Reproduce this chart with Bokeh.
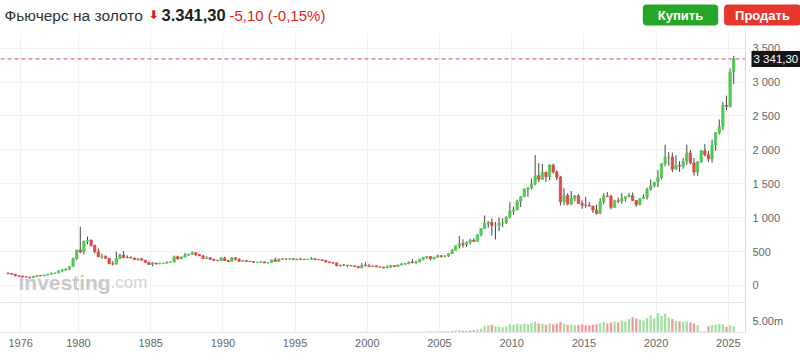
import numpy as np
from bokeh.plotting import figure
from bokeh.models import Range1d, FixedTicker, Label, ColumnDataSource, LinearAxis, Grid
from bokeh.layouts import column
from bokeh.embed import file_html
from bokeh.resources import INLINE

# ---------------- data (quarterly candles, 1975 Q1 .. 2025 Q2) ----------------
first_year = 1975
first_open = 183
close = [
    177, 166, 142, 140,   129, 124, 117, 134,   148, 141, 154, 165,   181, 183, 217, 226,
    240, 278, 397, 524,   494, 653, 666, 590,   499, 422, 428, 400,   320, 315, 397, 448,
    414, 413, 405, 382,   394, 373, 342, 309,   330, 317, 325, 327,   345, 346, 425, 391,
    421, 449, 460, 484,   457, 437, 397, 410,   385, 373, 368, 402,   369, 353, 408, 386,
    356, 368, 355, 353,   342, 343, 349, 333,   338, 378, 355, 391,   390, 389, 395, 383,
    392, 388, 384, 387,   397, 382, 379, 369,   349, 335, 333, 290,   301, 297, 296, 289,
    280, 262, 299, 290,   278, 289, 274, 272,   258, 271, 293, 279,   303, 317, 324, 348,
    336, 346, 388, 416,   427, 394, 418, 438,   429, 437, 473, 518,   584, 616, 603, 638,
    669, 650, 751, 838,   917, 930, 884, 884,   924, 927, 1009, 1097, 1115, 1244, 1309, 1421,
    1439, 1500, 1620, 1566, 1669, 1604, 1776, 1675, 1597, 1234, 1327, 1202, 1284, 1322, 1210, 1184,
    1183, 1172, 1115, 1060, 1234, 1321, 1316, 1152, 1249, 1242, 1284, 1309, 1327, 1253, 1192, 1282,
    1298, 1413, 1472, 1523, 1596, 1800, 1895, 1895, 1715, 1770, 1757, 1829, 1954, 1807, 1672, 1826,
    1986, 1929, 1866, 2072, 2254, 2339, 2660, 2641, 3150, 3341.3,
]
high = [
    186, 178, 167, 146,   141, 131, 126, 139,   152, 150, 156, 168,   190, 187, 220, 245,
    255, 282, 412, 525,   865, 660, 720, 680,   600, 545, 470, 445,   405, 360, 500, 470,
    510, 445, 430, 410,   405, 405, 375, 350,   345, 330, 335, 335,   355, 350, 440, 440,
    425, 480, 465, 502,   485, 460, 445, 430,   415, 395, 375, 420,   425, 378, 415, 420,
    400, 370, 372, 364,   357, 346, 355, 350,   340, 380, 410, 395,   395, 395, 397, 398,
    395, 397, 392, 392,   420, 398, 390, 385,   370, 350, 345, 340,   310, 315, 298, 300,
    292, 292, 330, 340,   320, 295, 295, 275,   275, 296, 296, 295,   305, 330, 330, 350,
    390, 370, 393, 418,   430, 430, 420, 457,   445, 445, 475, 540,   590, 730, 680, 650,
    690, 695, 755, 845,   1033, 950, 990, 935,  1007, 990, 1020, 1227, 1165, 1266, 1315, 1432,
    1448, 1577, 1923, 1804, 1791, 1680, 1790, 1798, 1697, 1617, 1434, 1362, 1392, 1335, 1345, 1255,
    1308, 1232, 1170, 1192, 1287, 1362, 1377, 1337, 1264, 1296, 1362, 1307, 1366, 1369, 1259, 1287,
    1346, 1442, 1566, 1525, 1704, 1789, 2075, 1966, 1959, 1919, 1835, 1877, 2078, 1998, 1882, 1833,
    2000, 2085, 1985, 2152, 2260, 2448, 2708, 2801, 3201, 3385,
]
low = [
    166, 161, 137, 128,   126, 122, 103, 110,   131, 139, 140, 152,   165, 170, 182, 195,
    218, 230, 278, 372,   474, 460, 612, 570,   470, 420, 390, 390,   315, 297, 310, 390,
    400, 400, 400, 375,   365, 370, 335, 305,   284, 310, 315, 318,   330, 335, 345, 380,
    390, 415, 440, 455,   430, 440, 395, 400,   380, 358, 356, 365,   365, 345, 350, 372,
    355, 352, 348, 345,   340, 335, 337, 330,   326, 335, 350, 352,   375, 375, 380, 380,
    372, 382, 381, 381,   387, 382, 380, 365,   338, 335, 316, 285,   278, 288, 270, 285,
    278, 255, 252, 283,   275, 272, 270, 264,   256, 256, 265, 272,   278, 300, 300, 312,
    325, 320, 342, 370,   390, 372, 385, 410,   410, 415, 420, 465,   520, 545, 560, 570,
    605, 640, 645, 725,   840, 850, 735, 680,   800, 860, 905, 990,   1045, 1110, 1157, 1310,
    1309, 1415, 1478, 1523, 1560, 1527, 1555, 1650, 1555, 1180, 1180, 1180, 1182, 1240, 1205, 1131,
    1141, 1162, 1072, 1046, 1061, 1200, 1302, 1123, 1146, 1214, 1204, 1236, 1302, 1245, 1160, 1182,
    1276, 1266, 1400, 1446, 1450, 1568, 1757, 1767, 1673, 1723, 1677, 1722, 1780, 1785, 1622, 1618,
    1805, 1900, 1820, 1810, 1984, 2226, 2293, 2584, 2625, 2970,
]
# volume in millions of contracts, quarterly from 1993 Q1
vol_first_year = 1993
volume_m = [
    0.2, 0.2, 0.25, 0.2,  0.2, 0.2, 0.2, 0.2,   0.2, 0.2, 0.2, 0.2,   0.2, 0.2, 0.2, 0.2,
    0.2, 0.2, 0.25, 0.25, 0.25, 0.25, 0.25, 0.25, 0.25, 0.25, 0.3, 0.3, 0.25, 0.25, 0.25, 0.25,
    0.25, 0.25, 0.3, 0.3, 0.3, 0.3, 0.3, 0.3,   0.35, 0.35, 0.35, 0.35, 0.4, 0.4, 0.4, 0.45,
    0.45, 0.5, 0.5, 0.6,  0.8, 0.9, 0.7, 0.8,   0.9, 0.9, 1.2, 1.6,   2.8, 3.0, 3.2, 2.6,
    2.4, 2.2, 2.6, 3.4,   3.2, 3.6, 3.4, 3.8,   3.4, 4.0, 4.6, 3.8,   3.6, 3.2, 3.8, 3.4,
    3.8, 4.4, 3.6, 3.2,   3.2, 3.0, 3.2, 3.4,   3.0, 3.0, 3.2, 3.4,   4.0, 4.4, 3.8, 4.2,
    4.6, 4.2, 5.0, 4.6,   5.6, 6.4, 5.8, 5.4,   5.0, 6.0, 7.2, 6.0,   8.0, 7.0, 7.8, 6.2,
    5.6, 4.8, 4.6, 4.4,   4.6, 4.2, 3.6, 3.0,   0.5, 0.4, 2.6, 3.0,   3.2, 3.6, 3.4, 2.4,
    3.0, 2.6,
]
year_ticks = [1976, 1980, 1985, 1990, 1995, 2000, 2005, 2010, 2015, 2020, 2025]
price_ticks = [0, 500, 1000, 1500, 2000, 2500, 3000, 3500]
volume_ticks = [5e6]
last_price = 3341.30
change = -5.10
change_pct = -0.15
title_text = "Фьючерс на золото"
buy_text = "Купить"
sell_text = "Продать"

# ---------------- derived ----------------
UP = "#55c655"
DOWN = "#e24848"
WICK = "#454545"
n = len(close)
t = [first_year + 0.125 + 0.25 * i for i in range(n)]
opens = [first_open] + close[:-1]
colors = [UP if c >= o else DOWN for o, c in zip(opens, close)]
src = ColumnDataSource(dict(
    t=t, o=opens, c=close, h=high, l=low,
    top=[max(o, c) for o, c in zip(opens, close)],
    bot=[min(o, c) for o, c in zip(opens, close)],
    color=colors,
))
off = (vol_first_year - first_year) * 4
vsrc = ColumnDataSource(dict(
    t=t[off:off + len(volume_m)],
    v=[v * 1e6 for v in volume_m],
    color=colors[off:off + len(volume_m)],
))


def fmt_space(v, dec=0):
    s = f"{v:,.{dec}f}"
    return s.replace(",", " ").replace(".", ",")


FONT = "Liberation Sans"
X0, X_AXIS, X1 = 1974.60, 2026.19, 2030.00   # left edge, price-axis position, canvas right edge
xr = Range1d(X0, X1)
yr = Range1d(-251, 3731)


def base_fig(h, yrange, **kw):
    f = figure(width=800, height=h, x_range=xr, y_range=yrange,
               x_axis_location=None, y_axis_location=None,
               output_backend="svg", toolbar_location=None,
               min_border_left=0, min_border_right=0,
               outline_line_color=None, background_fill_color="white",
               border_fill_color="white", **kw)
    f.xgrid.visible = False
    f.ygrid.visible = False
    return f


axis_style = dict(major_tick_line_color=None, minor_tick_line_color=None,
                  major_tick_out=0, major_tick_in=0, major_label_standoff=7,
                  major_label_text_font_size="11px", major_label_text_color="#666666",
                  major_label_text_font=FONT)

# ---------------- header ----------------
ph = figure(width=800, height=32, x_range=Range1d(0, 800), y_range=Range1d(32, 0),
            x_axis_location=None, y_axis_location=None, output_backend="svg",
            toolbar_location=None, min_border=0, min_border_left=0, min_border_right=0,
            min_border_top=0, min_border_bottom=0, outline_line_color=None,
            background_fill_color="white", border_fill_color="white")
ph.xgrid.visible = False
ph.ygrid.visible = False
ty = 14.5
ph.add_layout(Label(x=4, y=ty, text=title_text, text_font=FONT, text_font_size="15.5px",
                    text_color="#333333", text_baseline="middle"))
ph.add_layout(Label(x=148, y=ty, text="⬇", text_font="DejaVu Sans", text_font_size="12px",
                    text_font_style="bold", text_color="#d91e18", text_baseline="middle"))
ph.add_layout(Label(x=161, y=ty,
                    text=f"{last_price:,.2f}".replace(",", "X").replace(".", ",").replace("X", "."),
                    text_font=FONT, text_font_size="16.5px", text_font_style="bold",
                    text_color="#1e1e1e", text_baseline="middle"))
ph.add_layout(Label(x=229, y=ty, text=f"{change:.2f} ({change_pct:.2f}%)".replace(".", ","),
                    text_font=FONT, text_font_size="15px", text_color="#d91e18",
                    text_baseline="middle"))
ph.add_layout(Label(x=680, y=ty, text=buy_text, text_font=FONT, text_font_size="13px",
                    text_font_style="bold", text_color="white", text_align="center",
                    text_baseline="middle", background_fill_color="#27a527",
                    border_radius=4, padding=(15, 3)))
ph.add_layout(Label(x=762, y=ty, text=sell_text, text_font=FONT, text_font_size="13px",
                    text_font_style="bold", text_color="white", text_align="center",
                    text_baseline="middle", background_fill_color="#e5372e",
                    border_radius=4, padding=(11, 3)))

# ---------------- price pane ----------------
pa = base_fig(270, yr, min_border_top=0, min_border_bottom=0)
pa.add_layout(Grid(dimension=1, ticker=FixedTicker(ticks=price_ticks), grid_line_color="#f1f1f1"))
pa.add_layout(Grid(dimension=0, ticker=FixedTicker(ticks=year_ticks), grid_line_color="#f1f1f1"))
# blank strip behind the price scale
pa.quad(left=[X_AXIS], right=[X1], bottom=[yr.start], top=[yr.end],
        fill_color="white", line_color=None)
ya = LinearAxis(ticker=FixedTicker(ticks=price_ticks), fixed_location=X_AXIS,
                major_label_overrides={v: fmt_space(v) for v in price_ticks},
                axis_line_color="#d8d8d8", **axis_style)
pa.add_layout(ya, "right")

# watermark (behind the candles)
pa.add_layout(Label(x=18, y=20, x_units="screen", y_units="screen", text="Investing",
                    text_font=FONT, text_font_style="bold", text_font_size="21px",
                    text_color="#c9c9c9", text_baseline="alphabetic", level="underlay"))
pa.add_layout(Label(x=110, y=20, x_units="screen", y_units="screen", text=".com",
                    text_font=FONT, text_font_size="17px", text_color="#d4d4d4",
                    text_baseline="alphabetic", level="underlay"))

pa.segment(x0="t", y0="l", x1="t", y1="h", source=src, line_color=WICK, line_width=1)
pa.vbar(x="t", width=0.16, top="top", bottom="bot", source=src,
        fill_color="color", line_color="color", line_width=0.8)

pa.segment(x0=[X0], x1=[X_AXIS], y0=[last_price], y1=[last_price],
           line_color="#c2524d", line_dash="4 3", line_width=1)
pa.add_layout(Label(x=751, y=last_price, x_units="screen", y_units="data",
                    text=fmt_space(last_price, 2), text_color="white", text_font=FONT,
                    text_font_size="11.5px", text_baseline="middle",
                    background_fill_color="#151515", padding=2))

# ---------------- volume pane ----------------
vr = Range1d(0, 12.5e6)
pb = base_fig(59, vr, min_border_top=0, min_border_bottom=29)
pb.add_layout(Grid(dimension=0, ticker=FixedTicker(ticks=year_ticks), grid_line_color="#f1f1f1"))
xa = LinearAxis(ticker=FixedTicker(ticks=year_ticks), bounds=(X0, X_AXIS),
                major_label_overrides={y: str(y) for y in year_ticks},
                axis_line_color="#e4e4e4", **{**axis_style, "major_label_standoff": 6})
pb.add_layout(xa, "below")
sep = LinearAxis(ticker=FixedTicker(ticks=[]), bounds=(X0, X_AXIS), fixed_location=vr.end,
                 axis_line_color="#c6c6c6", major_label_text_font_size="0px",
                 major_tick_line_color=None, minor_tick_line_color=None)
pb.add_layout(sep, "above")
va = LinearAxis(ticker=FixedTicker(ticks=volume_ticks), fixed_location=X_AXIS,
                major_label_overrides={5000000: "5.00m"},
                axis_line_color="#d8d8d8", **axis_style)
pb.add_layout(va, "right")
pb.vbar(x="t", width=0.16, top="v", bottom=0, source=vsrc,
        fill_color="color", line_color=None, fill_alpha=0.55)

layout = column(ph, pa, pb)
open("out.html", "w").write(file_html(layout, INLINE))
